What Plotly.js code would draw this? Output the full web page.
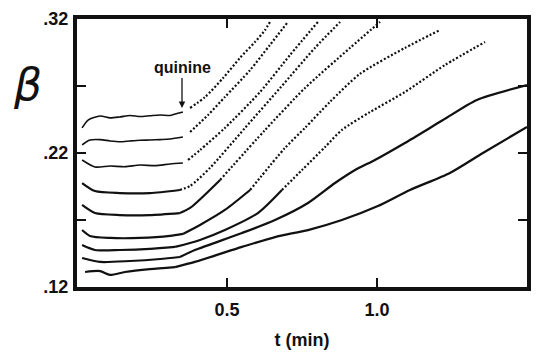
<!DOCTYPE html>
<html>
<head>
<meta charset="utf-8">
<script src="https://cdn.plot.ly/plotly-3.0.1.min.js"></script>
<style>html,body{margin:0;padding:0;background:#fff;}#chart{width:536px;height:353px;}</style>
</head>
<body>
<div id="chart"></div>
<script>
// time (min) and beta values, one pair per curve (top to bottom)
const t1 = [0.017,0.037,0.077,0.11,0.143,0.177,0.21,0.243,0.277,0.31,0.327,0.353,0.377,0.427,0.487,0.543,0.593,0.627,0.643];
const b1 = [0.2387,0.2446,0.2476,0.2462,0.2469,0.2480,0.2472,0.2478,0.2484,0.2480,0.2491,0.2506,0.2536,0.2618,0.2760,0.2909,0.3028,0.3118,0.3178];
const t2 = [0.017,0.043,0.077,0.11,0.143,0.177,0.21,0.243,0.277,0.31,0.353,0.377,0.437,0.493,0.577,0.643,0.703];
const b2 = [0.2260,0.2297,0.2300,0.2290,0.2284,0.2290,0.2295,0.2297,0.2300,0.2304,0.2319,0.2357,0.2484,0.2618,0.2819,0.3006,0.3178];
const t3 = [0.017,0.06,0.11,0.16,0.21,0.26,0.31,0.353,0.37,0.41,0.493,0.61,0.71,0.803];
const b3 = [0.2148,0.2096,0.2103,0.2098,0.2110,0.2106,0.2118,0.2125,0.2148,0.2222,0.2387,0.2655,0.2931,0.3178];
const t4 = [0.017,0.06,0.143,0.243,0.343,0.377,0.443,0.56,0.677,0.793,0.877];
const b4 = [0.1976,0.1916,0.1901,0.1901,0.1924,0.1954,0.2088,0.2387,0.2685,0.2984,0.3178];
const t5 = [0.017,0.06,0.143,0.243,0.343,0.377,0.477,0.627,0.76,0.91,1.01];
const b5 = [0.1812,0.1752,0.1737,0.1737,0.1752,0.1790,0.1999,0.2372,0.2685,0.2984,0.3178];
const t6 = [0.017,0.043,0.11,0.21,0.31,0.353,0.41,0.493,0.577,0.693,0.76,0.843,0.943,1.093,1.21];
const b6 = [0.1625,0.1581,0.1566,0.1566,0.1581,0.1596,0.1663,0.1775,0.1924,0.2237,0.2387,0.2581,0.2790,0.2984,0.3118];
const t7 = [0.017,0.06,0.143,0.243,0.327,0.41,0.493,0.603,0.683,0.75,0.827,0.883,0.977,1.093,1.227,1.36];
const b7 = [0.1513,0.1476,0.1476,0.1484,0.1499,0.1551,0.1625,0.1752,0.1924,0.2073,0.2245,0.2372,0.2506,0.2655,0.2857,0.3028];
const t8 = [0.017,0.077,0.177,0.277,0.343,0.393,0.55,0.66,0.77,0.86,0.927,0.993,1.093,1.22,1.333,1.5];
const b8 = [0.1416,0.1387,0.1394,0.1409,0.1424,0.1476,0.1603,0.1700,0.1827,0.1976,0.2073,0.2148,0.2275,0.2446,0.2596,0.2707];
const t9 = [0.027,0.077,0.11,0.16,0.243,0.327,0.393,0.55,0.66,0.77,0.883,1.003,1.11,1.243,1.353,1.5];
const b9 = [0.1312,0.1319,0.1290,0.1312,0.1334,0.1349,0.1387,0.1499,0.1573,0.1625,0.1700,0.1804,0.1924,0.2051,0.2200,0.2394];

const yTicks = [0.12,0.17,0.22,0.27,0.32];
const yTickText = ['.12','','.22','','.32'];
const xTicks = [0.5,1.0,1.5];
const xTickText = ['0.5','1.0','1.5'];
const quinineT = 0.36;   // time of quinine addition
const sparseBeta = 0.187; // above this level the recorded traces become sparse dots

const curves = [[t1,b1],[t2,b2],[t3,b3],[t4,b4],[t5,b5],[t6,b6],[t7,b7],[t8,b8],[t9,b9]];
const traces = [];
function addLine(x, y, dotted, width) {
  if (x.length < 2) return;
  traces.push({x:x, y:y, mode:'lines', hoverinfo:'skip', showlegend:false,
    line:{color:'#111', width:width, dash:dotted?'2px,2px':'solid', shape:'spline', smoothing:0.7}});
}
curves.forEach(([t,b],i) => {
  const preX=[],preY=[],postX=[],postY=[];
  t.forEach((x,j)=>{ if (x<=quinineT){preX.push(x);preY.push(b[j]);} else {postX.push(x);postY.push(b[j]);} });
  addLine(preX, preY, false, i<3?1.6:2.2);
  if (i >= 3) { postX.unshift(preX[preX.length-1]); postY.unshift(preY[preY.length-1]); }
  if (i >= 7) { addLine(postX, postY, false, 2.3); return; }
  // solid while the trace is below the sparse level, dotted above it
  let k = postY.findIndex(v => v >= sparseBeta);
  if (k < 0) k = postY.length;
  addLine(postX.slice(0, k+1), postY.slice(0, k+1), false, 2.2);
  addLine(postX.slice(Math.max(k,0)), postY.slice(Math.max(k,0)), true, 2.2);
});

const font = {family:'Liberation Sans, Arial, sans-serif', size:18, color:'#111', weight:700};
const layout = {
  width:536, height:353,
  margin:{l:77,r:9,t:19,b:66},
  paper_bgcolor:'#fff', plot_bgcolor:'#fff',
  showlegend:false,
  xaxis:{range:[0,1.5], tickvals:xTicks, ticktext:xTickText, ticks:'inside', ticklen:9, tickwidth:2, tickcolor:'#111',
         showline:true, linewidth:4, linecolor:'#111', mirror:'ticks', showgrid:false, zeroline:false,
         tickfont:font, ticklabelstandoff:3,
         title:{text:'t (min)', font:{family:'Liberation Sans, Arial, sans-serif', size:18, color:'#111', weight:700}, standoff:16}},
  yaxis:{range:[0.12,0.32], tickvals:yTicks, ticktext:yTickText, ticks:'inside', ticklen:9, tickwidth:2, tickcolor:'#111',
         showline:true, linewidth:4, linecolor:'#111', mirror:'ticks', showgrid:false, zeroline:false,
         tickfont:font, ticklabelstandoff:1},
  annotations:[
    {x:0.35, y:0.2536, xref:'x', yref:'y', text:'quinine', showarrow:true, arrowhead:2, arrowsize:1, arrowwidth:1.3, arrowcolor:'#111',
     ax:0, ay:-40, font:{family:'Liberation Sans, Arial, sans-serif', size:16, color:'#111', weight:700}},
    {x:-0.11, y:0.755, xref:'paper', yref:'paper', text:'<i>β</i>', showarrow:false, xanchor:'center', yanchor:'middle',
     font:{family:'DejaVu Sans, sans-serif', size:44, color:'#111'}}
  ]
};
Plotly.newPlot('chart', traces, layout, {staticPlot:true, displayModeBar:false});
</script>
</body>
</html>
